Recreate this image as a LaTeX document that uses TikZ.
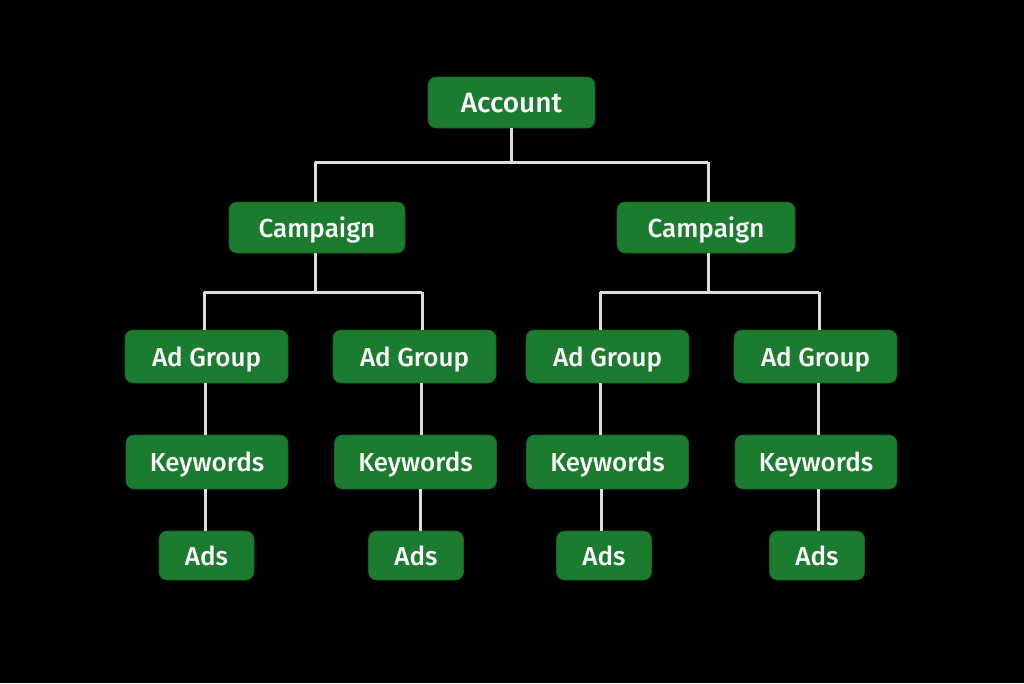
\documentclass[tikz,border=0pt]{standalone}
\usepackage{fontspec}
\setmainfont{Fira Sans}
\newfontfamily\boxfont{Fira Sans Medium}
\begin{document}
\begin{tikzpicture}[x=1pt,y=-1pt,
  box/.style={fill=boxgreen, draw=boxgreen!80!black, line width=0.6pt, rounded corners=8pt, text=white, inner sep=0pt, text depth=0pt, font=\boxfont\fontsize{26}{26}\selectfont},
  wire/.style={draw=wiregray, line width=3pt}]
\definecolor{boxgreen}{HTML}{1B7C2F}
\definecolor{wiregray}{HTML}{DDDDDD}
\fill[black] (0,0) rectangle (1024,683);
\useasboundingbox (0,0) rectangle (1024,683);
% nodes
\node[box, minimum width=167pt, minimum height=51pt, font=\boxfont\fontsize{28}{28}\selectfont] (acc) at (511.5,102.5) {Account};
\node[box, minimum width=176pt, minimum height=51pt] (c1) at (317,227.5) {Campaign};
\node[box, minimum width=178pt, minimum height=51pt] (c2) at (706,227.5) {Campaign};
\foreach \n/\x in {1/206.5,2/414.5,3/607.5,4/815.5}{
  \node[box, minimum width=163pt, minimum height=53pt] (g\n) at (\x,356.5) {Ad Group};
}
\foreach \n/\x in {1/207,2/415.5,3/607.5,4/816}{
  \node[box, minimum width=162pt, minimum height=54pt] (k\n) at (\x,462) {Keywords};
}
\foreach \n/\x in {1/206.5,2/416,3/604,4/817}{
  \node[box, minimum width=95pt, minimum height=49pt] (a\n) at (\x,555.5) {Ads};
}
% junction coordinates
\coordinate (j0) at (511,162);
\coordinate (j1) at (315,292);
\coordinate (j2) at (708,292);
\coordinate (t1) at (204,292);
\coordinate (t2) at (422,292);
\coordinate (t3) at (600,292);
\coordinate (t4) at (819,292);
\draw[wire] (acc.south -| j0) -- (j0);
\draw[wire] (315,162) -- (708,162);
\draw[wire] (315,162) -- (c1.north -| 315,0);
\draw[wire] (708,162) -- (c2.north -| 708,0);
\draw[wire] (c1.south -| j1) -- (j1);
\draw[wire] (c2.south -| j2) -- (j2);
\draw[wire] (t1) -- (t2);
\draw[wire] (t3) -- (t4);
\foreach \n in {1,2,3,4}{
  \draw[wire] (t\n) -- (t\n |- g\n.north);
}
\foreach \n/\x in {1/205,2/421,3/600,4/818}{
  \draw[wire] (g\n.south -| \x,0) -- (k\n.north -| \x,0);
}
\foreach \n/\x in {1/205,2/420,3/601,4/818}{
  \draw[wire] (k\n.south -| \x,0) -- (a\n.north -| \x,0);
}
\end{tikzpicture}
\end{document}
